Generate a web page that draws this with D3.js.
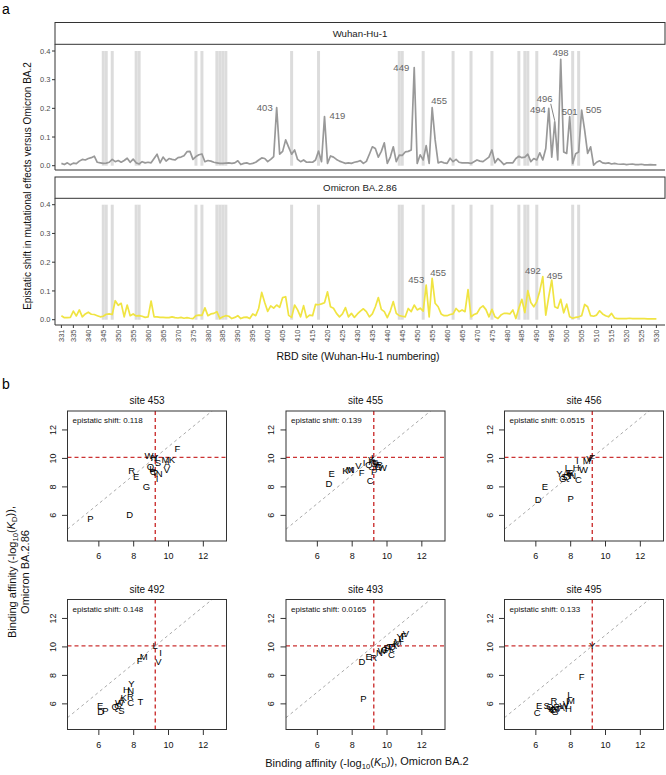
<!DOCTYPE html>
<html><head><meta charset="utf-8">
<script src="https://cdn.jsdelivr.net/npm/d3@7"></script>
<style>
body{margin:0;background:#fff;}
svg{font-family:"Liberation Sans",Arial,Helvetica,sans-serif;}
</style>
</head><body>
<svg id="c" width="666" height="775"></svg>
<script>
// ---------------- DATA ----------------
const siteFirst = 331, siteLast = 530;
const sites = d3.range(siteFirst, siteLast + 1);

const wuhanShift = [
0.008,0.004,0.010,0.003,0.009,0.007,0.016,0.022,0.020,0.025,
0.028,0.033,0.012,0.010,0.008,0.009,0.012,0.022,0.014,0.018,
0.012,0.018,0.026,0.012,0.023,0.010,0.006,0.014,0.010,0.012,
0.010,0.025,0.040,0.010,0.030,0.016,0.025,0.022,0.020,0.028,
0.030,0.035,0.049,0.050,0.022,0.032,0.038,0.041,0.014,0.018,
0.016,0.012,0.010,0.008,0.008,0.009,0.010,0.008,0.010,0.017,
0.004,0.008,0.010,0.006,0.008,0.012,0.020,0.027,0.025,0.014,
0.022,0.032,0.203,0.040,0.050,0.090,0.065,0.040,0.055,0.022,
0.014,0.020,0.012,0.013,0.012,0.020,0.051,0.014,0.171,0.008,
0.034,0.030,0.022,0.016,0.012,0.008,0.010,0.008,0.012,0.014,
0.018,0.008,0.015,0.040,0.066,0.060,0.030,0.050,0.080,0.008,
0.030,0.066,0.014,0.037,0.036,0.048,0.050,0.055,0.342,0.008,
0.038,0.020,0.070,0.008,0.203,0.090,0.010,0.014,0.010,0.008,
0.026,0.014,0.022,0.012,0.010,0.010,0.010,0.008,0.014,0.020,
0.016,0.014,0.022,0.030,0.055,0.010,0.025,0.015,0.004,0.010,
0.010,0.010,0.025,0.033,0.028,0.030,0.040,0.014,0.025,0.020,
0.045,0.020,0.060,0.200,0.030,0.153,0.020,0.371,0.048,0.043,
0.171,0.008,0.042,0.048,0.194,0.124,0.043,0.066,0.002,0.012,
0.017,0.010,0.008,0.010,0.006,0.008,0.006,0.005,0.006,0.004,
0.005,0.006,0.004,0.004,0.005,0.003,0.003,0.004,0.003,0.003];

const ba286Shift = [
0.014,0.007,0.007,0.008,0.030,0.013,0.034,0.010,0.020,0.026,
0.019,0.018,0.014,0.010,0.012,0.019,0.020,0.018,0.066,0.050,
0.057,0.010,0.051,0.014,0.020,0.013,0.014,0.012,0.008,0.010,
0.065,0.010,0.010,0.008,0.008,0.007,0.007,0.010,0.007,0.006,
0.008,0.005,0.007,0.005,0.004,0.014,0.016,0.015,0.041,0.014,
0.020,0.022,0.028,0.004,0.010,0.014,0.012,0.004,0.008,0.014,
0.004,0.008,0.009,0.004,0.020,0.014,0.040,0.095,0.060,0.029,
0.048,0.040,0.051,0.043,0.077,0.080,0.015,0.008,0.051,0.034,
0.010,0.049,0.007,0.016,0.014,0.053,0.052,0.055,0.059,0.097,
0.045,0.040,0.022,0.010,0.020,0.042,0.010,0.022,0.008,0.020,
0.030,0.038,0.028,0.010,0.020,0.045,0.077,0.036,0.028,0.007,
0.030,0.063,0.022,0.014,0.012,0.010,0.039,0.028,0.051,0.034,
0.040,0.030,0.120,0.010,0.144,0.057,0.045,0.020,0.014,0.014,
0.018,0.020,0.039,0.028,0.034,0.028,0.105,0.010,0.018,0.022,
0.040,0.048,0.035,0.010,0.036,0.010,0.004,0.016,0.022,0.022,
0.020,0.034,0.004,0.040,0.071,0.025,0.101,0.060,0.045,0.063,
0.100,0.150,0.016,0.080,0.138,0.045,0.040,0.071,0.024,0.054,
0.010,0.005,0.008,0.010,0.014,0.053,0.045,0.014,0.012,0.016,
0.031,0.020,0.014,0.010,0.022,0.006,0.004,0.004,0.004,0.004,
0.005,0.004,0.004,0.004,0.004,0.004,0.003,0.003,0.003,0.003];

const shadedSites = [345,346,348,356,357,376,378,383,384,385,386,408,417,444,445,452,462,468,475,484,486,487,490,502,504];
const xTickSites = [331,335,340,345,350,355,360,365,370,375,380,385,390,395,400,405,410,415,420,425,430,435,440,445,450,455,460,465,470,475,480,485,490,495,500,505,510,515,520,525,530];
const yTicksA = [0, 0.1, 0.2, 0.3, 0.4];
const wuhanLabelSites = [403,419,449,455,494,496,498,501,505];
const ba286LabelSites = [453,455,492,495];

// panel b
const scatterSites = [453,455,456,492,493,495];
const scatterShift = ["0.118","0.139","0.0515","0.148","0.0165","0.133"];
const wtBA2 = 9.24, wtBA286 = 10.07;
const axisTicksB = [6,8,10,12];

const aa453 = ["F","W","H","Y","S","M","K","A","V","Q","R","E","L","N","I","T","C","G","D","P"];
const x453  = [10.51,8.88,9.16,9.24,9.39,9.83,10.19,9.92,9.89,8.97,7.89,8.15,9.05,9.47,9.35,9.20,9.12,8.74,7.77,5.52];
const y453  = [10.65,10.21,10.02,10.07,9.67,9.91,9.88,9.63,9.21,9.39,9.16,8.71,9.30,8.93,8.57,9.00,9.09,7.99,6.03,5.77];

const aa455 = ["E","D","K","M","N","V","F","I","L","Q","S","A","G","W","P","C","H","T","R","Y"];
const x455  = [6.82,6.67,7.61,7.86,7.95,8.36,8.55,8.68,9.24,8.97,9.28,9.41,9.50,9.74,9.26,9.03,9.12,9.37,9.56,9.07];
const y455  = [8.93,8.22,9.14,9.18,9.20,9.49,9.02,9.72,10.07,9.53,9.60,9.67,9.45,9.32,9.07,8.43,9.79,9.44,9.56,9.90];

const aa456 = ["D","E","P","C","Y","G","S","Q","N","K","T","A","R","L","H","W","I","M","F","V"];
const x456  = [6.13,6.52,8.00,8.44,7.35,7.54,7.62,7.77,8.12,7.92,7.96,7.73,8.02,7.81,8.31,8.73,8.38,8.92,9.24,9.08];
const y456  = [7.10,7.99,7.20,8.50,8.93,8.55,8.69,8.74,8.79,8.97,8.79,8.93,9.00,9.32,9.37,9.21,9.84,9.86,10.07,9.95];

const aa492 = ["L","I","V","M","F","Y","H","N","R","T","C","K","A","W","G","Q","S","E","D","P"];
const x492  = [9.24,9.54,9.42,8.58,8.35,7.87,7.58,7.83,7.81,8.38,7.83,7.42,7.31,7.19,7.10,6.94,7.29,6.08,6.10,6.38];
const y492  = [10.07,9.58,8.94,9.34,9.06,7.41,6.99,6.94,6.54,6.16,6.05,6.42,6.28,6.05,5.88,5.81,5.53,5.88,5.48,5.53];

const aa493 = ["P","D","E","R","N","C","G","S","H","T","Q","A","K","M","Y","L","I","F","V","W"];
const x493  = [8.65,8.56,8.94,9.23,9.56,10.25,9.85,9.96,10.06,10.15,10.29,10.38,10.52,10.62,10.73,10.81,10.90,10.96,11.08,9.73];
const y493  = [6.35,8.94,9.29,9.25,9.60,9.46,9.84,9.93,9.88,10.00,10.05,10.12,10.24,10.35,10.71,10.59,10.75,10.80,10.94,9.72];

const aa495 = ["Y","F","L","M","I","C","E","S","R","Q","K","N","G","T","A","W","V","D","P","H"];
const x495  = [9.24,8.63,7.96,8.02,7.81,6.08,6.19,6.62,7.04,6.81,6.90,7.10,7.10,7.29,7.48,7.62,7.73,7.00,7.19,7.87];
const y495  = [10.07,7.93,6.66,6.19,6.19,5.41,5.88,5.88,6.19,5.81,5.65,5.69,5.46,5.65,5.76,5.88,6.00,5.58,5.81,5.65];

const scatterData = {453:[aa453,x453,y453],455:[aa455,x455,y455],456:[aa456,x456,y456],
                     492:[aa492,x492,y492],493:[aa493,x493,y493],495:[aa495,x495,y495]};

// ---------------- LAYOUT ----------------
const svg = d3.select("#c");
const TICKCOL = "#4d4d4d";

svg.append("text").attr("x",2).attr("y",14).attr("font-size",14).text("a");
svg.append("text").attr("x",2).attr("y",389).attr("font-size",14).text("b");

const xA = d3.scaleLinear().domain([siteFirst, siteLast]).range([61.4, 656.4]);
const L = 55, R = 665;

const panelsA = [
  {name:"Wuhan-Hu-1", vals:wuhanShift, color:"#999999", stripTop:22.5, plotTop:44.3, plotBottom:170, y0:165.7, y4:51,
   labels:wuhanLabelSites,
   off:{403:[-4,4,"end"],419:[5,2,"start"],449:[-5,3.5,"end"],455:[-1,-3,"start"],494:[-3,4.5,"end"],
        496:[-18,-20,"start"],498:[0,-3.5,"middle"],501:[0,-1.5,"middle"],505:[4,2.5,"start"]}},
  {name:"Omicron BA.2.86", vals:ba286Shift, color:"#F0E442", stripTop:177, plotTop:198.3, plotBottom:325, y0:319.7, y4:204.7,
   labels:ba286LabelSites,
   off:{453:[-2,-2,"end"],455:[-2,-2,"start"],492:[-2,-3,"end"],495:[-5,-1.5,"start"]}}
];

panelsA.forEach((p, pi) => {
  const y = d3.scaleLinear().domain([0, 0.4]).range([p.y0, p.y4]);
  const g = svg.append("g");
  g.append("rect").attr("x",L).attr("y",p.stripTop).attr("width",R-L).attr("height",p.plotTop-p.stripTop)
    .attr("fill","#fff").attr("stroke","#333").attr("stroke-width",1);
  g.append("text").attr("x",(L+R)/2).attr("y",(p.stripTop+p.plotTop)/2).attr("dy","0.35em")
    .attr("text-anchor","middle").attr("font-size",9.7).attr("fill","#1a1a1a").text(p.name);
  g.selectAll("rect.band").data(shadedSites).join("rect").attr("class","band")
    .attr("x", s => xA(s-0.5)).attr("width", s => xA(s+0.5)-xA(s-0.5))
    .attr("y", y(0.4)).attr("height", y(0)-y(0.4)).attr("fill","#dcdcdc");
  const line = d3.line().x((d,i)=>xA(sites[i])).y(d=>y(d));
  g.append("path").datum(p.vals).attr("d",line).attr("fill","none")
    .attr("stroke",p.color).attr("stroke-width",1.7).attr("stroke-linejoin","round");
  g.append("line").attr("x1",L).attr("x2",L).attr("y1",p.plotTop).attr("y2",p.plotBottom).attr("stroke","#333").attr("stroke-width",1);
  g.append("line").attr("x1",L).attr("x2",R).attr("y1",p.plotBottom).attr("y2",p.plotBottom).attr("stroke","#333").attr("stroke-width",1);
  const yt = g.selectAll("g.yt").data(yTicksA).join("g").attr("transform", d=>`translate(${L},${y(d)})`);
  yt.append("line").attr("x1",-3).attr("x2",0).attr("stroke","#333");
  yt.append("text").attr("x",-4.5).attr("dy","0.35em").attr("text-anchor","end").attr("font-size",7.5)
    .attr("fill",TICKCOL).text(d=>d3.format(".1f")(d));
  p.labels.forEach(s => {
    const v = p.vals[s - siteFirst];
    const px = xA(s), py = y(v);
    const o = p.off[s];
    g.append("text").attr("x",px+o[0]).attr("y",py+o[1]).attr("text-anchor",o[2])
      .attr("font-size",9.5).attr("fill","#666").text(s);
    if (s === 496 && pi === 0) {
      g.append("line").attr("x1",px-4).attr("y1",py-18).attr("x2",px).attr("y2",py-1)
        .attr("stroke","#666").attr("stroke-width",0.8);
    }
  });
  if (pi === 1) {
    const xt = g.selectAll("g.xt").data(xTickSites).join("g").attr("transform", d=>`translate(${xA(d)},${p.plotBottom})`);
    xt.append("line").attr("y1",0).attr("y2",3).attr("stroke","#333");
    xt.append("text").attr("transform","translate(0,4.5) rotate(-90)").attr("dy","0.35em").attr("text-anchor","end")
      .attr("font-size",7.5).attr("fill",TICKCOL).text(d=>d);
  }
});

svg.append("text").attr("transform","translate(31,186) rotate(-90)").attr("text-anchor","middle")
  .attr("font-size",10).attr("fill","#111").text("Epistatic shift in mutational effects versus Omicron BA.2");
svg.append("text").attr("x",358).attr("y",360).attr("text-anchor","middle")
  .attr("font-size",10.5).attr("fill","#111").text("RBD site (Wuhan-Hu-1 numbering)");

// ---------------- PANEL b ----------------
const colX = [67.5, 286, 504.5], rowY = [411, 599.5];
const PW = 159, PH = 130;
const domB = [4.2, 13.33];

scatterSites.forEach((site, i) => {
  const x0 = colX[i % 3], y0 = rowY[Math.floor(i / 3)];
  const xs = d3.scaleLinear().domain(domB).range([x0, x0 + PW]);
  const ys = d3.scaleLinear().domain(domB).range([y0 + PH, y0]);
  const g = svg.append("g");
  const clipId = "clip" + site;
  g.append("clipPath").attr("id",clipId).append("rect").attr("x",x0).attr("y",y0).attr("width",PW).attr("height",PH);
  const inner = g.append("g").attr("clip-path",`url(#${clipId})`);
  const off = wtBA286 - wtBA2;
  inner.append("line").attr("x1",xs(domB[0])).attr("y1",ys(domB[0]+off))
    .attr("x2",xs(domB[1])).attr("y2",ys(domB[1]+off))
    .attr("stroke","#aaa").attr("stroke-width",1).attr("stroke-dasharray","3,3");
  inner.append("line").attr("x1",xs(wtBA2)).attr("x2",xs(wtBA2)).attr("y1",y0).attr("y2",y0+PH)
    .attr("stroke","#cc3333").attr("stroke-width",1.4).attr("stroke-dasharray","4,3");
  inner.append("line").attr("x1",x0).attr("x2",x0+PW).attr("y1",ys(wtBA286)).attr("y2",ys(wtBA286))
    .attr("stroke","#cc3333").attr("stroke-width",1.4).attr("stroke-dasharray","4,3");
  const [aa, xv, yv] = scatterData[site];
  inner.selectAll("text.aa").data(aa).join("text").attr("class","aa")
    .attr("x",(d,k)=>xs(xv[k])).attr("y",(d,k)=>ys(yv[k])).attr("dy","0.35em")
    .attr("text-anchor","middle").attr("font-size",9.5).attr("fill","#000").text(d=>d);
  g.append("rect").attr("x",x0).attr("y",y0).attr("width",PW).attr("height",PH)
    .attr("fill","none").attr("stroke","#333").attr("stroke-width",1);
  g.append("text").attr("x",x0+5).attr("y",y0+12).attr("font-size",8).attr("fill","#111")
    .text("epistatic shift: " + scatterShift[i]);
  g.append("text").attr("x",x0+PW/2).attr("y",y0-7).attr("text-anchor","middle").attr("font-size",10)
    .attr("fill","#111").text("site " + site);
  const xt = g.selectAll("g.xt").data(axisTicksB).join("g").attr("transform",d=>`translate(${xs(d)},${y0+PH})`);
  xt.append("line").attr("y2",5.5).attr("stroke","#333");
  xt.append("text").attr("y",18).attr("text-anchor","middle").attr("font-size",9).attr("fill","#111").text(d=>d);
  const ytk = g.selectAll("g.yt").data(axisTicksB).join("g").attr("transform",d=>`translate(${x0},${ys(d)})`);
  ytk.append("line").attr("x2",-5.5).attr("stroke","#333");
  ytk.append("text").attr("transform","translate(-12,0) rotate(-90)").attr("text-anchor","middle")
    .attr("font-size",9).attr("fill","#111").text(d=>d);
});

function kdLabel(sel, tail) {
  sel.append("tspan").text("Binding affinity (-log");
  sel.append("tspan").attr("font-size","0.7em").attr("dy","0.3em").text("10");
  sel.append("tspan").attr("dy","-0.3em").text("(");
  sel.append("tspan").attr("font-style","italic").text("K");
  sel.append("tspan").attr("font-size","0.7em").attr("dy","0.3em").text("D");
  sel.append("tspan").attr("dy","-0.3em").text("))" + tail);
}
const yl = svg.append("g").attr("transform","translate(19,572) rotate(-90)");
kdLabel(yl.append("text").attr("y",-3).attr("text-anchor","middle").attr("font-size",11).attr("fill","#111"), ",");
yl.append("text").attr("y",10).attr("text-anchor","middle").attr("font-size",11).attr("fill","#111").text("Omicron BA.2.86");
kdLabel(svg.append("text").attr("x",367).attr("y",767).attr("text-anchor","middle").attr("font-size",11).attr("fill","#111"), ", Omicron BA.2");
</script>
</body></html>
